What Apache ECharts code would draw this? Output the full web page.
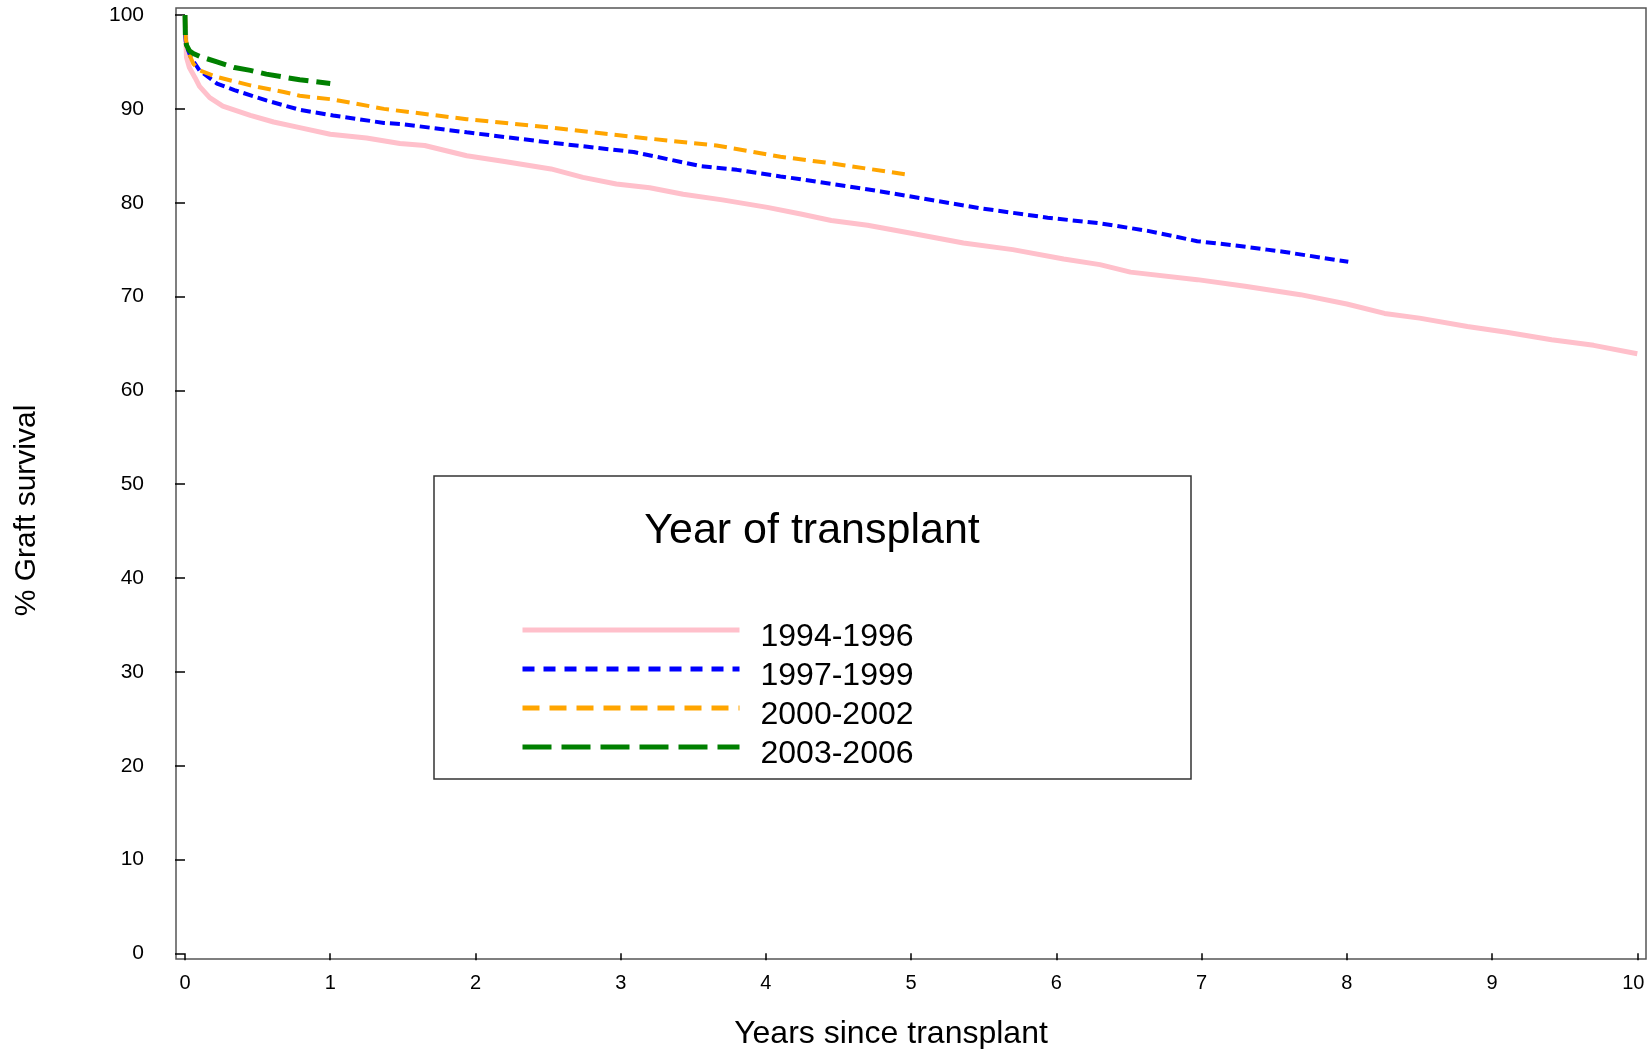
<!DOCTYPE html>
<html>
<head>
<meta charset="utf-8">
<script src="https://cdn.jsdelivr.net/npm/echarts@6/dist/echarts.min.js"></script>
<style>
  html, body { margin: 0; padding: 0; background: #fff; }
  #graft-chart { width: 1647px; height: 1049px; }
</style>
</head>
<body>
<div id="graft-chart"></div>
<script>
// years since transplant / % graft survival
var yearsX = [0, 1, 2, 3, 4, 5, 6, 7, 8, 9, 10];
var pctY = [0, 10, 20, 30, 40, 50, 60, 70, 80, 90, 100];
var legendNames = ["1994-1996", "1997-1999", "2000-2002", "2003-2006"];

var x9496 = [0, 0.01, 0.03, 0.07, 0.1, 0.17, 0.26, 0.45, 0.61, 0.79, 1.0, 1.25, 1.48, 1.65, 1.94, 2.2, 2.52, 2.74, 2.97, 3.2, 3.43, 3.7, 4.01, 4.24, 4.45, 4.7, 5.02, 5.36, 5.7, 6.05, 6.3, 6.51, 6.97, 7.3, 7.68, 8.0, 8.26, 8.5, 8.83, 9.1, 9.41, 9.7, 10.0];
var y9496 = [100, 95.5, 94.4, 93.3, 92.4, 91.2, 90.3, 89.3, 88.6, 88.0, 87.3, 86.9, 86.3, 86.1, 85.0, 84.4, 83.6, 82.7, 82.0, 81.6, 80.9, 80.3, 79.5, 78.8, 78.1, 77.6, 76.7, 75.7, 75.0, 74.0, 73.4, 72.6, 71.8, 71.1, 70.2, 69.2, 68.2, 67.7, 66.8, 66.2, 65.4, 64.8, 63.9];

var x9799 = [0, 0.005, 0.02, 0.04, 0.1, 0.22, 0.34, 0.56, 0.79, 1.02, 1.37, 1.48, 1.94, 2.52, 3.09, 3.55, 3.8, 4.1, 4.24, 4.79, 5.48, 5.94, 6.3, 6.63, 6.97, 7.2, 7.45, 7.55, 8.01];
var y9799 = [98, 97.2, 96.3, 95.5, 94.1, 92.7, 92.0, 90.9, 89.9, 89.3, 88.5, 88.4, 87.5, 86.4, 85.4, 83.9, 83.5, 82.8, 82.5, 81.2, 79.4, 78.4, 77.8, 77.0, 75.9, 75.5, 75.0, 74.8, 73.7];

var x0002 = [0, 0.005, 0.02, 0.057, 0.1, 0.22, 0.45, 0.68, 0.79, 1.02, 1.37, 1.94, 2.52, 3.09, 3.66, 4.1, 4.45, 4.97];
var y0002 = [100, 97.5, 96.2, 94.8, 94.1, 93.4, 92.5, 91.8, 91.4, 91.0, 90.0, 88.9, 88.0, 87.0, 86.1, 84.9, 84.2, 83.0];

var x0306 = [0, 0.003, 0.01, 0.03, 0.057, 0.1, 0.22, 0.34, 0.45, 0.56, 0.79, 1.0];
var y0306 = [100, 97.5, 96.8, 96.2, 95.9, 95.6, 95.0, 94.4, 94.1, 93.7, 93.1, 92.7];

function pairs(xs, ys) {
  var arr = [];
  xs.forEach(function (x, i) {
    arr.push([x, ys[i]]);
  });
  return arr;
}

var colors = ["#FFC0CB", "#0000FF", "#FFA500", "#008000"];
var curveDash = ["solid", [10, 5], [13, 7], [20, 8]];
var legendDash = ["solid", [12, 9], [17, 10], [29, 10]];
var widths = [5, 4, 4, 5];
var curves = [pairs(x9496, y9496), pairs(x9799, y9799), pairs(x0002, y0002), pairs(x0306, y0306)];

var myChart = echarts.init(document.getElementById("graft-chart"));

var seriesList = [];
legendNames.forEach(function (name, i) {
  seriesList.push({
    name: name,
    type: "line",
    symbol: "none",
    data: curves[i],
    lineStyle: { color: colors[i], width: widths[i], type: curveDash[i] },
    itemStyle: { color: colors[i] },
    z: 2 + i
  });
});

var option = {
  animation: false,
  backgroundColor: "#fff",
  title: {
    text: "Year of transplant",
    left: 807,
    top: 501,
    textAlign: "center",
    textStyle: {
      fontFamily: "Liberation Sans",
      fontWeight: "normal",
      fontSize: 43,
      lineHeight: 50,
      color: "#000"
    }
  },
  legend: {
    orient: "vertical",
    left: 520,
    top: 607,
    padding: 0,
    itemGap: -7,
    itemWidth: 217,
    itemHeight: 14,
    data: legendNames.map(function (name, i) {
      return {
        name: name,
        itemStyle: { opacity: 0 },
        lineStyle: { color: colors[i], width: 5, type: legendDash[i] }
      };
    }),
    // empty first line pushes the label a little below its line sample
    formatter: function (name) {
      return "\n" + name;
    },
    textStyle: {
      fontFamily: "Liberation Sans",
      fontSize: 32,
      color: "#000",
      lineHeight: 14,
      padding: [0, 0, 0, 16]
    }
  },
  grid: {
    left: 176,
    right: 1,
    top: 8,
    bottom: 90,
    outerBoundsMode: "none",
    show: true,
    borderColor: "#555",
    borderWidth: 1.5
  },
  xAxis: {
    type: "value",
    min: -0.062,
    max: 10.06,
    name: "Years since transplant",
    nameLocation: "middle",
    nameGap: 59,
    nameTextStyle: {
      fontFamily: "Liberation Sans",
      fontSize: 32,
      color: "#000",
      padding: [0, 40, 0, 0]
    },
    axisLine: { show: false },
    splitLine: { show: false },
    axisTick: {
      show: true,
      length: 7,
      customValues: yearsX,
      lineStyle: { color: "#000", width: 1.5 }
    },
    axisLabel: {
      customValues: yearsX,
      margin: 14,
      fontFamily: "Liberation Sans",
      fontSize: 20,
      color: "#000",
      // keep the last label inside the page edge
      formatter: function (v) {
        return v === 10 ? "{last|" + v + "}" : String(v);
      },
      rich: {
        last: { fontFamily: "Liberation Sans", fontSize: 20, color: "#000", padding: [0, 8, 0, 0] }
      }
    }
  },
  yAxis: {
    type: "value",
    min: -0.6,
    max: 100.75,
    name: "% Graft survival",
    nameLocation: "middle",
    nameRotate: 90,
    nameGap: 134,
    nameTextStyle: {
      fontFamily: "Liberation Sans",
      fontSize: 30,
      color: "#000",
      padding: [0, 54, 0, 0]
    },
    axisLine: { show: false },
    splitLine: { show: false },
    axisTick: {
      show: true,
      length: 10,
      customValues: pctY,
      lineStyle: { color: "#000", width: 1.5 }
    },
    axisLabel: {
      customValues: pctY,
      margin: 32,
      fontFamily: "Liberation Sans",
      fontSize: 21,
      color: "#000"
    }
  },
  graphic: [
    {
      type: "rect",
      shape: { x: 434, y: 476, width: 757, height: 303 },
      style: { fill: "#fff", stroke: "#333", lineWidth: 1.5 },
      z: 1
    }
  ],
  series: seriesList
};

myChart.setOption(option);
</script>
</body>
</html>
